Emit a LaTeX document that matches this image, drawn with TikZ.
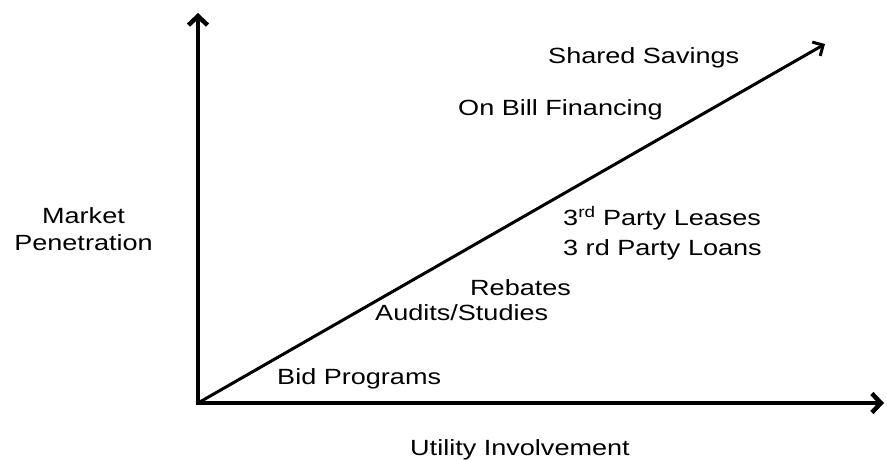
\documentclass[tikz,border=0pt]{standalone}
\usepackage{fontspec}
\setmainfont{Liberation Sans}[FakeStretch=1.23]
\usetikzlibrary{arrows.meta}
\tikzset{
  lbl/.style={anchor=base west, inner sep=0pt, font=\fontsize{22}{27}\selectfont},
  axis/.style={line width=4.5pt, -{Straight Barb[length=9pt,width=19pt]}},
  diag/.style={line width=3pt, -{Straight Barb[length=8pt,width=16pt]}}
}
\begin{document}
\begin{tikzpicture}[x=1pt,y=-1pt]
\useasboundingbox (0,0) rectangle (887,459);
\coordinate (o) at (198,403);
\coordinate (ytop) at (198,13);
\coordinate (xend) at (884,403);
\coordinate (dend) at (825,44);
\coordinate (ob) at (198,405.25);
\coordinate (ol) at (195.75,403);
\draw[axis] (ob) -- (ytop);
\draw[axis] (ol) -- (xend);
\draw[diag] (o) -- (dend);
\node[lbl] (bid) at (277,384) {Bid Programs};
\node[lbl] (util) at (410,455) {Utility Involvement};
\node[anchor=base, inner sep=0pt, font=\fontsize{22}{27}\selectfont, align=center] (mkt) at (83.5,250) {Market\\Penetration};
\node[lbl] (reb) at (470,295) {Rebates};
\node[lbl] (aud) at (375,320) {Audits/Studies};
\node[lbl] (shs) at (548,63) {Shared Savings};
\node[lbl] (obf) at (458,115) {On Bill Financing};
\node[lbl] (lea) at (563,225) {3\textsuperscript{rd} Party Leases};
\node[lbl] (loa) at (563,255) {3 rd Party Loans};
\end{tikzpicture}
\end{document}
